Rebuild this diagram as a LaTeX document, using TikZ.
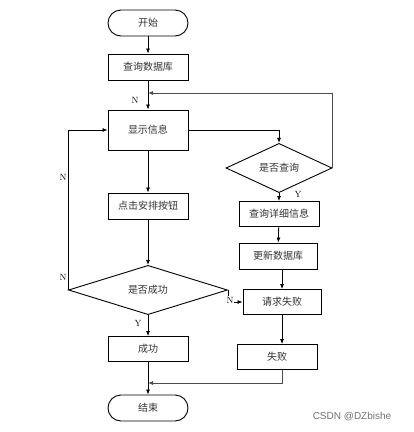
\documentclass[tikz,border=0pt]{standalone}
\usepackage{fontspec}
\newfontfamily\cjk{Noto Sans CJK SC}
\newfontfamily\wmfont{Liberation Sans}
\usetikzlibrary{shapes.geometric,arrows.meta}
\begin{document}
\begin{tikzpicture}[x=1pt,y=-1pt,
  txt/.style={font=\cjk\fontsize{10}{12}\selectfont,text=black!80},
  box/.style={draw,line width=0.9pt,minimum width=80pt,minimum height=26pt,inner sep=0pt,txt},
  term/.style={box,rounded corners=13pt},
  dia/.style={draw,diamond,line width=0.9pt,inner sep=0pt,txt},
  arr/.style={line width=0.8pt,-{Latex[length=5pt,width=4pt]}},
  gln/.style={arr,draw=black!70},
  lab/.style={font=\fontsize{9}{10}\selectfont,inner sep=1pt}]
\useasboundingbox (0,0) rectangle (414,432);
\node[term] (start) at (148,23) {开始};
\node[box] (q) at (148,67) {查询数据库};
\node[box,minimum height=40pt] (show) at (148,130) {显示信息};
\node[dia,minimum width=106pt,minimum height=42pt] (d1) at (279,168) {是否查询};
\node[box,minimum height=25pt] (detail) at (279,214) {查询详细信息};
\node[box,minimum width=78pt] (update) at (278,256) {更新数据库};
\node[box] (click) at (148,206) {点击安排按钮};
\node[dia,minimum width=159pt,minimum height=42pt] (d2) at (148,290) {是否成功};
\node[box,minimum width=78pt,minimum height=25pt] (req) at (282,302) {请求失败};
\node[box,minimum height=25pt] (fail) at (277,357) {失败};
\node[box,minimum height=25pt] (succ) at (148,349) {成功};
\node[term] (end) at (148,408) {结束};
\coordinate (loop1) at (148,93);
\coordinate (merge) at (148,383);
\draw[arr] (start) -- (q);
\draw[arr] (q) -- (show);
\node[lab] (n1) at (135,100) {N};
\draw[arr] (show.east) -| (d1.north);
\draw[gln] (d1.east) |- (loop1);
\draw[arr] (d1.south) -- (detail.north);
\node[lab] (y1) at (298,194) {Y};
\draw[arr] (detail) -- (update);
\draw[arr] (req.north |- update.south) -- (req.north);
\draw[arr] (req.south) -- (req.south |- fail.north);
\draw[gln] (req.south |- fail.south) |- (merge);
\draw[arr] (show) -- (click);
\draw[arr] (click) -- (d2);
\draw[arr] (d2.south) -- (succ.north);
\node[lab] (y2) at (138,323) {Y};
\draw[arr] (succ) -- (end);
\draw[arr] (d2.west) |- (show.west);
\node[lab] (n2) at (63,177) {N};
\node[lab] (n3) at (63,277) {N};
\draw[arr] (d2.east) |- (req.west);
\node[lab,fill=white] (n4) at (230,300) {N};
\node[font=\wmfont\fontsize{10}{12}\selectfont,text=black!55] (wm) at (352,417) {CSDN @DZbishe};
\end{tikzpicture}
\end{document}
